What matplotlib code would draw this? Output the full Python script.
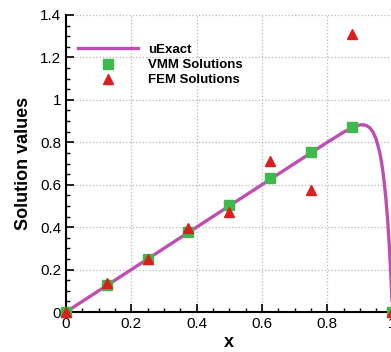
import matplotlib
matplotlib.use("Agg")
import matplotlib.pyplot as plt
from matplotlib.ticker import MultipleLocator

plt.rcParams['font.family'] = ['Liberation Sans', 'DejaVu Sans']

# exact solution
x_exact = [0.0, 0.1, 0.2, 0.3, 0.4, 0.5, 0.6, 0.7, 0.8, 0.85, 0.875, 0.89, 0.9, 0.91,
           0.92, 0.93, 0.94, 0.95, 0.96, 0.965, 0.97, 0.975, 0.98, 0.985, 0.99, 0.995, 1.0]
u_exact = [0.0, 0.1, 0.2, 0.3, 0.4, 0.5, 0.6, 0.7, 0.7997, 0.8475, 0.868, 0.8777, 0.8817, 0.8827,
           0.879, 0.869, 0.849, 0.815, 0.758, 0.718, 0.669, 0.607, 0.531, 0.436, 0.320, 0.176, 0.0]

x_nodes = [0.0, 0.125, 0.25, 0.375, 0.5, 0.625, 0.75, 0.875, 1.0]
vmm_vals = [0.0, 0.127, 0.25, 0.377, 0.504, 0.630, 0.752, 0.872, 0.0]
fem_vals = [0.0, 0.137, 0.25, 0.396, 0.473, 0.712, 0.575, 1.31, 0.0]

fig = plt.figure(figsize=(3.91, 3.52), dpi=100)
ax = fig.add_axes([66/391, 40/352, 326.5/391, 297/352])

ax.plot(x_exact, u_exact, color='#c04eb2', lw=2.4, label='uExact', zorder=3, clip_on=False)
ax.plot(x_nodes, vmm_vals, 's', color='#3dba4b', ms=6.5, label='VMM Solutions', zorder=4, clip_on=False)
ax.plot(x_nodes, fem_vals, '^', color='#d8201f', ms=7, label='FEM Solutions', zorder=5, clip_on=False)

ax.set_xlim(0, 1)
ax.set_ylim(0, 1.4)
ax.xaxis.set_minor_locator(MultipleLocator(0.05))
ax.yaxis.set_minor_locator(MultipleLocator(0.05))
ax.set_xticks([0, 0.2, 0.4, 0.6, 0.8, 1.0])
ax.set_xticklabels(['0', '0.2', '0.4', '0.6', '0.8', '1'])
ax.set_yticks([0, 0.2, 0.4, 0.6, 0.8, 1.0, 1.2, 1.4])
ax.set_yticklabels(['0', '0.2', '0.4', '0.6', '0.8', '1', '1.2', '1.4'])

ax.tick_params(which='major', direction='in', length=6, width=1.2, labelsize=11)
ax.tick_params(which='minor', direction='in', length=3, width=1.0)
ax.grid(True, which='major', color='#b8b8b8', ls=':', lw=0.9)

for s in ['top', 'right']:
    ax.spines[s].set_visible(False)
for s in ['left', 'bottom']:
    ax.spines[s].set_linewidth(1.5)

ax.set_xlabel('x', fontsize=13, fontweight='bold', labelpad=2)
ax.set_ylabel('Solution values', fontsize=13, fontweight='bold', labelpad=6)

leg = ax.legend(loc='upper left', bbox_to_anchor=(0.0, 0.943), frameon=False,
                prop={'weight': 'bold', 'size': 9.5}, handlelength=4.55,
                handletextpad=0.8, labelspacing=0.22)

fig.savefig('out.png', dpi=100)
